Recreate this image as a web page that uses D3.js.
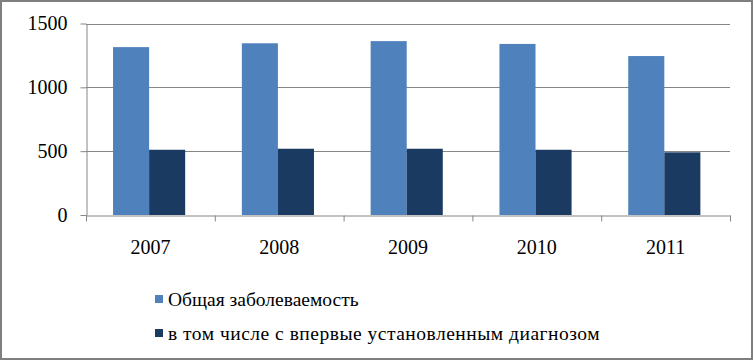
<!doctype html>
<html lang="ru">
<head>
<meta charset="utf-8">
<title>Заболеваемость 2007-2011</title>
<script src="https://d3js.org/d3.v7.min.js"></script>
<style>
  body { margin: 0; background: #fff; }
  svg { display: block; }
  svg text { font-family: "Liberation Serif", serif; }
</style>
</head>
<body>
<script>
// data
var years = ["2007", "2008", "2009", "2010", "2011"];
var total = [1315, 1345, 1362, 1340, 1245];
var firstTime = [511, 519, 519, 511, 491];
var seriesNames = ["Общая заболеваемость", "в том числе с впервые установленным диагнозом"];
var yTicks = [0, 500, 1000, 1500];

var width = 754, height = 361;
var plotL = 86, plotR = 730, plotT = 23.5, plotB = 215;
var colors = ["#4f81bd", "#1b3a62"];
var gridColor = "#868686";
var serif = "Liberation Serif";

var svg = d3.select("body").append("svg")
    .attr("width", width)
    .attr("height", height);

svg.append("rect")
    .attr("x", 1).attr("y", 1)
    .attr("width", width - 3).attr("height", height - 3)
    .attr("fill", "#fff")
    .attr("stroke", "#7f7f7f")
    .attr("stroke-width", 2);

var x = d3.scaleBand().domain(years).range([plotL, plotR]).padding(0);
var xs = d3.scaleBand().domain([0, 1])
    .range([x.bandwidth() * 0.21, x.bandwidth() * 0.77]);
var y = d3.scaleLinear().domain([0, 1500]).range([plotB, plotT]);

// gridlines
svg.append("g").selectAll("line")
    .data(yTicks.slice(1))
    .enter().append("line")
    .attr("x1", plotL).attr("x2", plotR)
    .attr("y1", function(d) { return Math.round(y(d)) + 0.5; })
    .attr("y2", function(d) { return Math.round(y(d)) + 0.5; })
    .attr("stroke", gridColor);

// bars
var rows = years.map(function(yr, i) { return { year: yr, vals: [total[i], firstTime[i]] }; });
var group = svg.append("g").selectAll("g")
    .data(rows)
    .enter().append("g")
    .attr("transform", function(d) { return "translate(" + x(d.year) + ",0)"; });

group.selectAll("rect")
    .data(function(d) { return d.vals; })
    .enter().append("rect")
    .attr("x", function(d, i) { return xs(i); })
    .attr("width", xs.bandwidth())
    .attr("y", function(d) { return y(d); })
    .attr("height", function(d) { return plotB - y(d); })
    .attr("fill", function(d, i) { return colors[i]; });

// y axis
var yAxis = svg.append("g")
    .attr("transform", "translate(" + (plotL + 0.5) + ",0)")
    .call(d3.axisLeft(y).tickValues(yTicks).tickFormat(d3.format("d"))
        .tickSize(6).tickPadding(16).tickSizeOuter(0));

// x axis, ticks at category boundaries
var xAxis = svg.append("g")
    .attr("transform", "translate(0," + (Math.round(plotB) + 0.5) + ")")
    .call(d3.axisBottom(x).tickSize(0).tickPadding(24));

xAxis.selectAll(".bound")
    .data(d3.range(years.length + 1))
    .enter().append("line")
    .attr("class", "bound")
    .attr("x1", function(i) { return plotL + i * x.step() + 0.5; })
    .attr("x2", function(i) { return plotL + i * x.step() + 0.5; })
    .attr("y1", 0).attr("y2", 6)
    .attr("stroke", gridColor);

[yAxis, xAxis].forEach(function(ax) {
    ax.attr("font-family", serif).attr("font-size", 20);
    ax.select(".domain").attr("stroke", gridColor);
    ax.selectAll(".tick line").attr("stroke", gridColor);
    ax.selectAll("text").attr("fill", "#000");
});
yAxis.selectAll("text").attr("dx", "0.15em");

// legend
var legend = svg.append("g")
    .attr("font-family", serif)
    .attr("font-size", 19.5)
    .selectAll("g")
    .data(seriesNames)
    .enter().append("g")
    .attr("transform", function(d, i) { return "translate(155," + (295 + i * 34) + ")"; });

legend.append("rect")
    .attr("width", 8).attr("height", 8)
    .attr("fill", function(d, i) { return colors[i]; });

legend.append("text")
    .attr("x", 13).attr("y", 11)
    .attr("fill", "#000")
    .attr("letter-spacing", function(d, i) { return i === 1 ? 0.5 : 0; })
    .text(function(d) { return d; });
</script>
</body>
</html>
